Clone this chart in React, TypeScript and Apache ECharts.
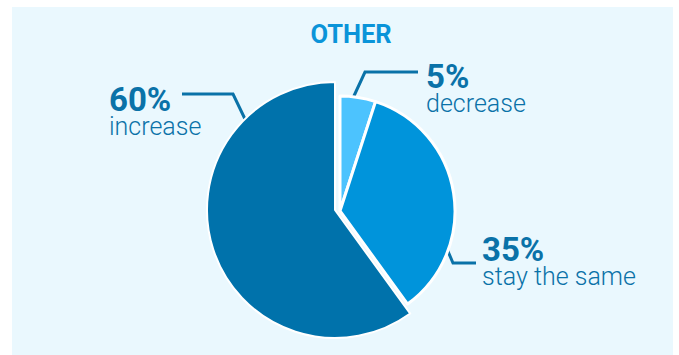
import React, { useEffect, useRef } from "react";
import * as echarts from "echarts";

const title = "OTHER";
const categories = ["decrease", "stay the same", "increase"];
const values = [5, 35, 60];
const sliceColors = ["#4cc3fe", "#0094db", "#0072ab"];

const TEXT = "#0a72a8";
const FONT = "Roboto, 'Liberation Sans', Arial, sans-serif";

// label placement (layout only)
const labelPlacement: Record<number, { x: number; y: number; pts: number[][] }> = {
  0: { x: 426, y: 62, pts: [[353, 98], [365, 72], [418, 72]] },
  1: { x: 482, y: 235, pts: [[447, 249], [453, 263], [476, 263]] },
  2: { x: 109, y: 85, pts: [[245, 119], [233, 94], [182, 94]] },
};

export default function App() {
  const ref = useRef<HTMLDivElement>(null);
  useEffect(() => {
    document.body.style.margin = "0";
    const chart = echarts.init(ref.current!, null, { renderer: "svg" });
    const label = {
      show: true,
      position: "outside" as const,
      formatter: (p: any) => `{v|${p.value}%}\n{n|${p.name}}`,
      rich: {
        v: { fontFamily: FONT, fontSize: 33, fontWeight: "bold", color: TEXT, lineHeight: 28 },
        n: { fontFamily: FONT, fontSize: 25, fontWeight: 300, color: TEXT, lineHeight: 27 },
      },
    };
    const labelLine = { show: true, lineStyle: { color: TEXT, width: 3 } };
    const layout = (params: any) => {
      const pl = labelPlacement[params.dataIndex];
      return { x: pl.x, y: pl.y, align: "left", verticalAlign: "top", labelLinePoints: pl.pts };
    };
    const mk = (show: (i: number) => boolean) =>
      categories.map((name, i) => ({
        name,
        value: values[i],
        itemStyle: { color: show(i) ? sliceColors[i] : "transparent", borderColor: show(i) ? "#ffffff" : "transparent" },
        label: { show: show(i) },
        labelLine: { show: show(i) },
      }));
    chart.setOption({
      animation: false,
      graphic: [
        { type: "rect", shape: { x: 12, y: 7, width: 661, height: 348 }, style: { fill: "#eaf8fe" }, z: -10 },
      ],
      title: {
        text: title,
        left: 346,
        textAlign: "center",
        top: 16,
        textStyle: { fontFamily: FONT, fontSize: 25.5, fontWeight: "bold", color: "#0a94d9" },
      },
      series: [
        {
          type: "pie",
          center: [335, 210],
          radius: 128,
          startAngle: 90,
          silent: true,
          itemStyle: { borderWidth: 2 },
          label,
          labelLine,
          labelLayout: layout,
          data: mk((i) => i === 2),
        },
        {
          type: "pie",
          center: [340, 211],
          radius: 115,
          startAngle: 90,
          silent: true,
          itemStyle: { borderWidth: 3 },
          label,
          labelLine,
          labelLayout: layout,
          data: mk((i) => i !== 2),
        },
      ],
    });
    return () => chart.dispose();
  }, []);
  return <div ref={ref} style={{ width: 679, height: 355 }} />;
}
